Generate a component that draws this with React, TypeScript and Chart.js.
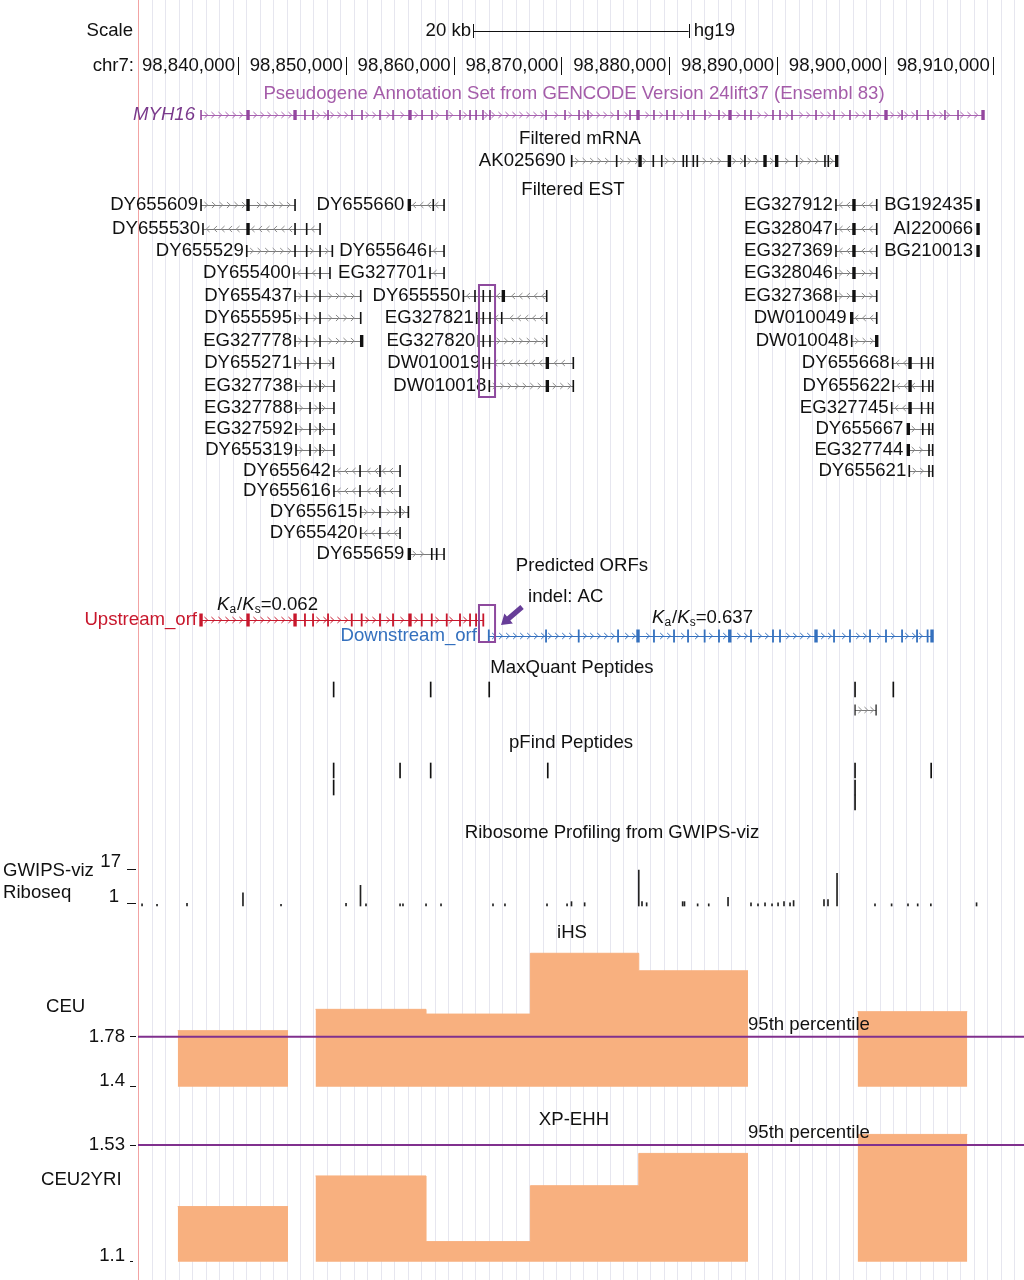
import { useEffect, useRef } from "react";
import { Chart, registerables } from "chart.js";

Chart.register(...registerables);

// ---------------- genomic window (chr7, hg19) ----------------
const CHROM = "chr7";
const X_MIN = 98817925;
const X_MAX = 98912900;
const VIEW_START = 98830725;
const VIEW_END = 98912300;
const GUIDE_START = 98832000;
const GUIDE_STEP = 1250;

const COORD_TICKS = [98840000, 98850000, 98860000, 98870000, 98880000, 98890000, 98900000, 98910000];
const SCALE_BAR = [98861800, 98881800];
const SCALE_LABEL = "20 kb";
const ASSEMBLY = "hg19";
const INDEL_REGION = [98862350, 98863840];

// ---------------- Pseudogene annotation (GENCODE) ----------------
const MYH16_EXONS = [
  98836570, 98840930, 98845290, 98846210, 98846960, 98848350, 98850570, 98851500, 98853170, 98854380,
  98855950, 98857070, 98857990, 98859380, 98860590, 98861520, 98862080, 98862720, 98863370, 98868570,
  98870330, 98871630, 98872460, 98875250, 98876360, 98877100, 98878580, 98879790, 98880440, 98881740,
  98882290, 98883310, 98884610, 98885630, 98887020, 98887580, 98889620, 98890270, 98891380, 98893610,
  98895280, 98896760, 98898620, 98900100, 98901590, 98902980, 98904000, 98905570, 98906780, 98909100,
];
const MYH16_THICK = [98840930, 98845290, 98855950, 98877100, 98885630, 98900100, 98909100];

// ---------------- Filtered mRNA ----------------
const AK025690_EXONS = [
  98870950, 98875120, 98877290, 98878520, 98879300, 98881300, 98881620, 98882230, 98882600, 98885570,
  98887020, 98888880, 98889960, 98891820, 98894440, 98894750, 98895530,
];
const AK025690_THICK = [98877290, 98885570, 98888880, 98889960, 98895530];

// ---------------- Filtered EST: [name, row, strand, exons, thick exons] ----------------
const EST_LEFT_A = [98845290, 98846370, 98847610, 98851380];
const EST_LEFT_B = [98845380, 98846680, 98847610, 98848900];
const EST_LEFT_C = [98848900, 98851320, 98853170, 98855030];
const EST_RIGHT_A = [98895460, 98897130, 98899240];
const ESTS: [string, number, number, number[], number[]][] = [
  ["DY655609", 0, 1, [98836570, 98840930, 98845290], [98840930]],
  ["DY655660", 0, -1, [98855890, 98858110, 98859110], [98855890]],
  ["EG327912", 0, -1, EST_RIGHT_A, [98897130]],
  ["BG192435", 0, 1, [98908640], [98908640]],
  ["DY655530", 1, -1, [98836750, 98840930, 98845290, 98846370, 98847610], [98840930]],
  ["EG328047", 1, -1, EST_RIGHT_A, [98897130]],
  ["AI220066", 1, 1, [98908640], [98908640]],
  ["DY655529", 2, 1, [98840810, 98845290, 98846370, 98847610, 98848750], []],
  ["DY655646", 2, -1, [98857810, 98859110], []],
  ["EG327369", 2, -1, EST_RIGHT_A, [98897130]],
  ["BG210013", 2, 1, [98908640], [98908640]],
  ["DY655400", 3, -1, [98845190, 98846370, 98847610, 98848530], []],
  ["EG327701", 3, -1, [98857810, 98859110], []],
  ["EG328046", 3, 1, EST_RIGHT_A, [98897130]],
  ["DY655437", 4, 1, EST_LEFT_A, []],
  ["DY655550", 4, -1, [98860900, 98861980, 98862750, 98863370, 98864610, 98868630], [98864610]],
  ["EG327368", 4, 1, EST_RIGHT_A, [98897130]],
  ["DY655595", 5, 1, EST_LEFT_A, []],
  ["EG327821", 5, -1, [98862140, 98862750, 98863370, 98864460, 98868630], []],
  ["DW010049", 5, -1, [98896920, 98899240], [98896920]],
  ["EG327778", 6, 1, [98845290, 98846370, 98847610, 98851470], [98851470]],
  ["EG327820", 6, 1, [98862290, 98862750, 98863370, 98868630], []],
  ["DW010048", 6, 1, [98896920, 98899240], [98899240]],
  ["DY655271", 7, 1, [98845290, 98846490, 98847610, 98848840], []],
  ["DW010019", 7, -1, [98862750, 98863310, 98868690, 98871100], [98868690]],
  ["DY655668", 7, -1, [98900720, 98902330, 98903410, 98904030, 98904430], [98902330]],
  ["EG327738", 8, 1, EST_LEFT_B, []],
  ["DW010018", 8, 1, [98863310, 98868690, 98871100], [98868690]],
  ["DY655622", 8, -1, [98900780, 98902330, 98903510, 98904090, 98904430], [98902330]],
  ["EG327788", 9, 1, EST_LEFT_B, []],
  ["EG327745", 9, -1, [98900630, 98902330, 98903410, 98904030, 98904430], [98902330]],
  ["EG327592", 10, 1, EST_LEFT_B, []],
  ["DY655667", 10, 1, [98902170, 98903510, 98904090, 98904430], [98902170]],
  ["DY655319", 11, 1, EST_LEFT_B, []],
  ["EG327744", 11, 1, [98902170, 98904090, 98904430], [98902170]],
  ["DY655642", 12, -1, EST_LEFT_C, []],
  ["DY655621", 12, 1, [98902260, 98904090, 98904430], []],
  ["DY655616", 13, -1, EST_LEFT_C, []],
  ["DY655615", 14, 1, [98851380, 98853170, 98855030, 98855800], []],
  ["DY655420", 15, -1, [98851380, 98853170, 98855030], []],
  ["DY655659", 16, 1, [98855890, 98857970, 98858430, 98859110], [98855890]],
];

// ---------------- Predicted ORFs ----------------
const UPSTREAM_EXONS = [
  98836570, 98840930, 98845290, 98846210, 98846960, 98848350, 98850550, 98851470, 98853170, 98854380,
  98855950, 98857040, 98857970, 98859360, 98860590, 98861520, 98862080, 98862750,
];
const UPSTREAM_THICK = [98836570, 98840930, 98845290, 98855950];
const DOWNSTREAM_EXONS = [
  98863260, 98868570, 98871600, 98875250, 98877100, 98878580, 98880440, 98881740, 98883280, 98884610,
  98885610, 98887580, 98889620, 98890270, 98893610, 98895280, 98896760, 98898620, 98900100, 98901590,
  98902980, 98903960, 98904370,
];
const DOWNSTREAM_THICK = [98877100, 98885610, 98893610, 98904370];
const KAKS_UP = "0.062";
const KAKS_DOWN = "0.637";

// ---------------- Peptides ----------------
const MAXQUANT_PEPTIDES = [98848870, 98857870, 98863300, 98897230, 98900780];
const MAXQUANT_SPLIT = [98897230, 98899180];
const PFIND_ROW1 = [98848870, 98855030, 98857870, 98868730, 98897230, 98904290];
const PFIND_ROW2 = [98848870, 98897230];
const PFIND_ROW3 = [98897230];

// ---------------- Ribosome profiling (GWIPS-viz) ----------------
const RIBO_POS = [
  98831100, 98832490, 98835270, 98840460, 98843990, 98850020, 98851360, 98851870, 98855030, 98855300,
  98857440, 98858830, 98863650, 98864760, 98868660, 98870520, 98870930, 98872150, 98877170, 98877470,
  98877900, 98881240, 98881410, 98882630, 98883660, 98885450, 98887580, 98888230, 98888880, 98889530,
  98890090, 98890640, 98891200, 98891530, 98894350, 98894720, 98895560, 98899080, 98900620, 98902140,
  98903040, 98904260, 98908500,
];
const RIBO_VAL = [
  1, 0.8, 1.2, 6, 0.8, 1.2, 9.5, 1, 1, 1,
  1, 1, 1, 1, 1, 1, 2, 1.5, 16.5, 2,
  1.5, 2, 2, 1, 1, 4, 1.5, 1, 1.5, 1,
  1.5, 2, 1.5, 2.5, 3, 3, 15, 1, 1, 1,
  1, 1, 1.5,
];
const RIBO_TICKS = [1, 17];

// ---------------- Selection scans ----------------
const WIN_START = [98834410, 98847190, 98857440, 98867120, 98877170, 98897470];
const WIN_END = [98844640, 98857440, 98867120, 98877170, 98887300, 98907640];
const IHS_CEU = [1.826, 1.988, 1.952, 2.414, 2.281, 1.97];
const XPEHH_CEU2YRI = [1.303, 1.416, 1.174, 1.38, 1.499, 1.569];
const IHS_TICKS = [1.4, 1.78];
const XPEHH_TICKS = [1.1, 1.53];
const IHS_P95 = 1.78;
const XPEHH_P95 = 1.53;

// ---------------- layout & style ----------------
const H = 1280;
const L = {
  scaleY: 31,
  coordY: 66,
  pseudoTitleY: 94,
  myhY: 115,
  mrnaTitleY: 139,
  mrnaY: 161,
  estTitleY: 190,
  estRows: [205, 229, 251, 273, 296, 318, 341, 363, 386, 408, 429, 450, 471, 491, 512, 533, 554],
  estBox: [285, 397],
  orfTitleY: 566,
  indelY: 597,
  upY: 620,
  downY: 636,
  orfBox: [605, 642],
  mqTitleY: 668,
  mqTickTop: 682,
  mqSplitY: 710,
  pfTitleY: 743,
  pfTops: [763, 780, 795],
  tickLen: 15,
  riboTitleY: 833,
  ihsTitleY: 933,
  xpTitleY: 1120,
};
const FONT = '"Liberation Sans", Arial, Helvetica, sans-serif';
const FS = 18.6;
const F18 = `${FS}px ${FONT}`;
const FIT = `italic ${FS}px ${FONT}`;
const ORANGE = "#f8b07f";
const PURPLE_LINE = "#80308e";
const BOX = "#8e4a9e";
const RED = "#c8172c";
const BLUE = "#3470be";
const PSEUDO = "#a45ca9";

function rangeFor(v1: number, p1: number, v2: number, p2: number) {
  const k = (v2 - v1) / (p1 - p2);
  return { min: v1 - (H - p1) * k, max: v1 + p1 * k };
}

function stepPoints(values: number[]) {
  const pts: any[] = [];
  values.forEach((v, i) => {
    pts.push({ x: WIN_START[i], y: v });
    const next = WIN_START[i + 1];
    if (next !== WIN_END[i]) {
      pts.push({ x: WIN_END[i], y: v });
      if (next !== undefined) pts.push({ x: (WIN_END[i] + next) / 2, y: null });
    }
  });
  return pts;
}

function text(ctx: CanvasRenderingContext2D, s: string, x: number, y: number, align: CanvasTextAlign = "left", color = "#111", font = F18) {
  ctx.font = font;
  ctx.fillStyle = color;
  ctx.textAlign = align;
  ctx.textBaseline = "middle";
  ctx.fillText(s, x, y);
}

function vline(ctx: CanvasRenderingContext2D, x: number, y0: number, y1: number, color = "#111", w = 1) {
  ctx.strokeStyle = color;
  ctx.lineWidth = w;
  ctx.beginPath();
  ctx.moveTo(Math.round(x) + 0.5, y0);
  ctx.lineTo(Math.round(x) + 0.5, y1);
  ctx.stroke();
}

function hline(ctx: CanvasRenderingContext2D, x0: number, x1: number, y: number, color = "#111", w = 1) {
  ctx.strokeStyle = color;
  ctx.lineWidth = w;
  ctx.beginPath();
  ctx.moveTo(x0, Math.round(y) + 0.5);
  ctx.lineTo(x1, Math.round(y) + 0.5);
  ctx.stroke();
}

type TStyle = { line: string; chev: string; exon: string; h: number; thin: number; thick: number; gap: number };
const EST_STYLE: TStyle = { line: "#7a7a7a", chev: "#8c8c8c", exon: "#111", h: 12, thin: 1.6, thick: 3.4, gap: 7.5 };
const MYH_STYLE: TStyle = { line: "#a862b0", chev: "#a862b0", exon: "#94479f", h: 10, thin: 1.6, thick: 3.4, gap: 7 };
const UP_STYLE: TStyle = { line: RED, chev: RED, exon: RED, h: 13, thin: 1.8, thick: 3.4, gap: 7 };
const DOWN_STYLE: TStyle = { line: BLUE, chev: BLUE, exon: BLUE, h: 13, thin: 1.8, thick: 3.4, gap: 7 };

function drawTranscript(ctx: CanvasRenderingContext2D, X: (v: number) => number, y: number, strand: number, exons: number[], thick: number[], st: TStyle) {
  const xs = exons.map(X);
  const x0 = Math.min(...xs);
  const x1 = Math.max(...xs);
  ctx.save();
  if (x1 > x0) {
    hline(ctx, x0, x1, y - 0.5, st.line, 1);
    ctx.strokeStyle = st.chev;
    ctx.lineWidth = 1;
    for (let cx = x0 + 5; cx < x1 - 3; cx += st.gap) {
      if (xs.some((e) => Math.abs(e - cx) < 3)) continue;
      ctx.beginPath();
      ctx.moveTo(cx - 1.6 * strand, y - 3);
      ctx.lineTo(cx + 1.6 * strand, y);
      ctx.lineTo(cx - 1.6 * strand, y + 3);
      ctx.stroke();
    }
  }
  ctx.fillStyle = st.exon;
  exons.forEach((e, i) => {
    const w = thick.includes(e) ? st.thick : st.thin;
    ctx.fillRect(xs[i] - w / 2, y - st.h / 2, w, st.h);
  });
  ctx.restore();
  return { x0, x1, startThick: thick.includes(exons[0]) };
}

function kaks(ctx: CanvasRenderingContext2D, x: number, y: number, value: string) {
  const parts: [string, string, number][] = [
    [FIT, "K", 0],
    [`12px ${FONT}`, "a", 5],
    [F18, "/", 0],
    [FIT, "K", 0],
    [`12px ${FONT}`, "s", 5],
    [F18, "=" + value, 0],
  ];
  let cx = x;
  for (const [font, s, dy] of parts) {
    text(ctx, s, cx, y + dy, "left", "#111", font);
    cx += ctx.measureText(s).width + (s === "a" ? 1 : 0);
  }
}

function arrow(ctx: CanvasRenderingContext2D, x1: number, y1: number, x2: number, y2: number, color: string) {
  const ang = Math.atan2(y2 - y1, x2 - x1);
  const len = Math.hypot(x2 - x1, y2 - y1);
  const hl = 10, hw = 6.5, sw = 2.6;
  ctx.save();
  ctx.translate(x2, y2);
  ctx.rotate(ang);
  ctx.fillStyle = color;
  ctx.beginPath();
  ctx.moveTo(0, 0);
  ctx.lineTo(-hl, -hw);
  ctx.lineTo(-hl, -sw);
  ctx.lineTo(-len, -sw);
  ctx.lineTo(-len, sw);
  ctx.lineTo(-hl, sw);
  ctx.lineTo(-hl, hw);
  ctx.closePath();
  ctx.fill();
  ctx.restore();
}

const backgroundPlugin = {
  id: "browserBackground",
  beforeDraw(chart: any) {
    const ctx: CanvasRenderingContext2D = chart.ctx;
    const X = (v: number) => chart.scales.x.getPixelForValue(v);
    ctx.save();
    ctx.fillStyle = "#ffffff";
    ctx.fillRect(0, 0, chart.width, chart.height);
    for (let g = GUIDE_START; g < VIEW_END; g += GUIDE_STEP) vline(ctx, X(g), 0, H, "#e6e6ef", 1);
    vline(ctx, X(VIEW_START), 0, H, "#f2a3a3", 1);
    ctx.restore();
  },
};

const tracksPlugin = {
  id: "browserTracks",
  afterDatasetsDraw(chart: any) {
    const ctx: CanvasRenderingContext2D = chart.ctx;
    const X = (v: number) => chart.scales.x.getPixelForValue(v);
    ctx.save();

    // scale bar
    text(ctx, "Scale", 133, L.scaleY, "right");
    const sb0 = X(SCALE_BAR[0]);
    const sb1 = X(SCALE_BAR[1]);
    text(ctx, SCALE_LABEL, sb0 - 2, L.scaleY, "right");
    hline(ctx, sb0, sb1, L.scaleY - 0.5);
    vline(ctx, sb0, L.scaleY - 7, L.scaleY + 7);
    vline(ctx, sb1, L.scaleY - 7, L.scaleY + 7);
    text(ctx, ASSEMBLY, sb1 + 5, L.scaleY);

    // coordinates
    text(ctx, CHROM + ":", 134, L.coordY, "right");
    COORD_TICKS.forEach((t) => {
      const px = X(t);
      vline(ctx, px, L.coordY - 9, L.coordY + 9);
      text(ctx, t.toLocaleString("en-US"), px - 3, L.coordY, "right");
    });

    // pseudogene
    text(ctx, "Pseudogene Annotation Set from GENCODE Version 24lift37 (Ensembl 83)", 574, L.pseudoTitleY, "center", PSEUDO);
    const myh = drawTranscript(ctx, X, L.myhY, 1, MYH16_EXONS, MYH16_THICK, MYH_STYLE);
    text(ctx, "MYH16", myh.x0 - 6, L.myhY, "right", "#7a3a8c", FIT);

    // mRNA
    text(ctx, "Filtered mRNA", 580, L.mrnaTitleY, "center");
    const ak = drawTranscript(ctx, X, L.mrnaY, 1, AK025690_EXONS, AK025690_THICK, EST_STYLE);
    text(ctx, "AK025690", ak.x0 - 6, L.mrnaY, "right");

    // EST
    text(ctx, "Filtered EST", 573, L.estTitleY, "center");
    ESTS.forEach(([name, row, strand, exons, thick]) => {
      const y = L.estRows[row];
      const t = drawTranscript(ctx, X, y, strand, exons, thick, EST_STYLE);
      text(ctx, name, t.x0 - (t.startThick ? 5 : 3), y, "right");
    });
    const bx0 = X(INDEL_REGION[0]);
    const bx1 = X(INDEL_REGION[1]);
    ctx.strokeStyle = BOX;
    ctx.lineWidth = 2;
    ctx.strokeRect(bx0, L.estBox[0], bx1 - bx0, L.estBox[1] - L.estBox[0]);

    // ORFs
    text(ctx, "Predicted ORFs", 582, L.orfTitleY, "center");
    text(ctx, "indel: AC", 528, L.indelY, "left");
    const up = drawTranscript(ctx, X, L.upY, 1, UPSTREAM_EXONS, UPSTREAM_THICK, UP_STYLE);
    text(ctx, "Upstream_orf", up.x0 - 4, L.upY, "right", RED);
    kaks(ctx, 217, L.upY - 15, KAKS_UP);
    drawTranscript(ctx, X, L.downY, 1, DOWNSTREAM_EXONS, DOWNSTREAM_THICK, DOWN_STYLE);
    text(ctx, "Downstream_orf", bx0 - 2, L.downY, "right", BLUE);
    kaks(ctx, 652, L.upY - 2, KAKS_DOWN);
    ctx.strokeStyle = BOX;
    ctx.lineWidth = 2;
    ctx.strokeRect(bx0, L.orfBox[0], bx1 - bx0, L.orfBox[1] - L.orfBox[0]);
    arrow(ctx, bx1 + 27, L.orfBox[0] + 2, bx1 + 6, L.orfBox[0] + 20, "#673d98");

    // peptides
    text(ctx, "MaxQuant Peptides", 572, L.mqTitleY, "center");
    drawTranscript(ctx, X, L.mqSplitY, 1, MAXQUANT_SPLIT, [], { ...EST_STYLE, h: 11, thin: 1.2, gap: 6 });
    text(ctx, "pFind Peptides", 571, L.pfTitleY, "center");

    // ribosome profiling
    text(ctx, "Ribosome Profiling from GWIPS-viz", 612, L.riboTitleY, "center");
    text(ctx, "GWIPS-viz", 3, 871, "left");
    text(ctx, "Riboseq", 3, 893, "left");
    const yR = chart.scales.yRibo;
    RIBO_TICKS.forEach((t) => {
      const py = yR.getPixelForValue(t);
      text(ctx, String(t), t > 1 ? 121 : 119, py - 7, "right");
      hline(ctx, 127, 136, py - 0.5);
    });

    // iHS
    text(ctx, "iHS", 572, L.ihsTitleY, "center");
    text(ctx, "CEU", 46, 1007, "left");
    const yI = chart.scales.yIHS;
    IHS_TICKS.forEach((t) => {
      const py = yI.getPixelForValue(t);
      text(ctx, String(t), 125, t === IHS_P95 ? py : py - 6, "right");
      hline(ctx, 130, 136, py - 0.5);
    });
    text(ctx, "95th percentile", X(WIN_END[4]), yI.getPixelForValue(IHS_P95) - 12, "left");

    // XP-EHH
    text(ctx, "XP-EHH", 574, L.xpTitleY, "center");
    text(ctx, "CEU2YRI", 41, 1180, "left");
    const yX = chart.scales.yXP;
    XPEHH_TICKS.forEach((t) => {
      const py = yX.getPixelForValue(t);
      text(ctx, String(t), 125, t === XPEHH_P95 ? py : py - 6, "right");
      hline(ctx, 130, t === XPEHH_P95 ? 136 : 133, py - 0.5);
    });
    text(ctx, "95th percentile", X(WIN_END[4]), yX.getPixelForValue(XPEHH_P95) - 12, "left");

    ctx.restore();
  },
};

function tickBars(positions: number[], top: number) {
  return positions.map((x) => ({ x, y: [top, top + L.tickLen] }));
}

export default function App() {
  const ref = useRef<HTMLCanvasElement>(null);

  useEffect(() => {
    const canvas = ref.current;
    if (!canvas) return;
    const ribo = rangeFor(0, 906, 17, 869);
    const ihs = rangeFor(1.4, 1086.7, 1.78, 1036.7);
    const xp = rangeFor(1.1, 1261.7, 1.53, 1145);
    const barCommon = { grouped: false, barThickness: 1, categoryPercentage: 1, barPercentage: 1, borderWidth: 0 };

    const chart = new Chart(canvas, {
      type: "bar",
      data: {
        datasets: [
          {
            type: "line",
            label: "iHS 95th percentile",
            data: [{ x: VIEW_START, y: IHS_P95 }, { x: X_MAX, y: IHS_P95 }],
            yAxisID: "yIHS",
            borderColor: PURPLE_LINE,
            borderWidth: 2,
            pointRadius: 0,
            order: 0,
          },
          {
            type: "line",
            label: "XP-EHH 95th percentile",
            data: [{ x: VIEW_START, y: XPEHH_P95 }, { x: X_MAX, y: XPEHH_P95 }],
            yAxisID: "yXP",
            borderColor: PURPLE_LINE,
            borderWidth: 2,
            pointRadius: 0,
            order: 0,
          },
          {
            type: "line",
            label: "iHS CEU",
            data: stepPoints(IHS_CEU),
            yAxisID: "yIHS",
            stepped: true,
            spanGaps: false,
            fill: { value: IHS_TICKS[0] },
            backgroundColor: ORANGE,
            borderColor: ORANGE,
            borderWidth: 1,
            pointRadius: 0,
            order: 2,
          },
          {
            type: "line",
            label: "XP-EHH CEU2YRI",
            data: stepPoints(XPEHH_CEU2YRI),
            yAxisID: "yXP",
            stepped: true,
            spanGaps: false,
            fill: { value: XPEHH_TICKS[0] },
            backgroundColor: ORANGE,
            borderColor: ORANGE,
            borderWidth: 1,
            pointRadius: 0,
            order: 2,
          },
          {
            type: "bar",
            label: "Riboseq",
            data: RIBO_POS.map((x, i) => ({ x, y: RIBO_VAL[i] })),
            yAxisID: "yRibo",
            backgroundColor: "#222",
            ...barCommon,
          },
          {
            type: "bar",
            label: "MaxQuant",
            data: tickBars(MAXQUANT_PEPTIDES, L.mqTickTop),
            yAxisID: "yRow",
            backgroundColor: "#111",
            ...barCommon,
          },
          {
            type: "bar",
            label: "pFind",
            data: [
              ...tickBars(PFIND_ROW1, L.pfTops[0]),
              ...tickBars(PFIND_ROW2, L.pfTops[1]),
              ...tickBars(PFIND_ROW3, L.pfTops[2]),
            ],
            yAxisID: "yRow",
            backgroundColor: "#111",
            ...barCommon,
          },
        ] as any,
      },
      options: {
        responsive: false,
        animation: false,
        events: [],
        layout: { padding: 0 },
        plugins: { legend: { display: false }, tooltip: { enabled: false }, title: { display: false } },
        scales: {
          x: { type: "linear", min: X_MIN, max: X_MAX, display: false, offset: false, bounds: "data" },
          yRow: { type: "linear", min: 0, max: H, reverse: true, display: false, bounds: "data" },
          yRibo: { type: "linear", min: ribo.min, max: ribo.max, display: false, bounds: "data" },
          yIHS: { type: "linear", min: ihs.min, max: ihs.max, display: false, bounds: "data" },
          yXP: { type: "linear", min: xp.min, max: xp.max, display: false, bounds: "data" },
        } as any,
      },
      plugins: [backgroundPlugin, tracksPlugin],
    });
    return () => chart.destroy();
  }, []);

  return (
    <div style={{ position: "absolute", left: 0, top: 0, width: 1024, height: 1280, background: "#fff" }}>
      <canvas ref={ref} width={1024} height={1280} style={{ display: "block", width: 1024, height: 1280 }} />
    </div>
  );
}
